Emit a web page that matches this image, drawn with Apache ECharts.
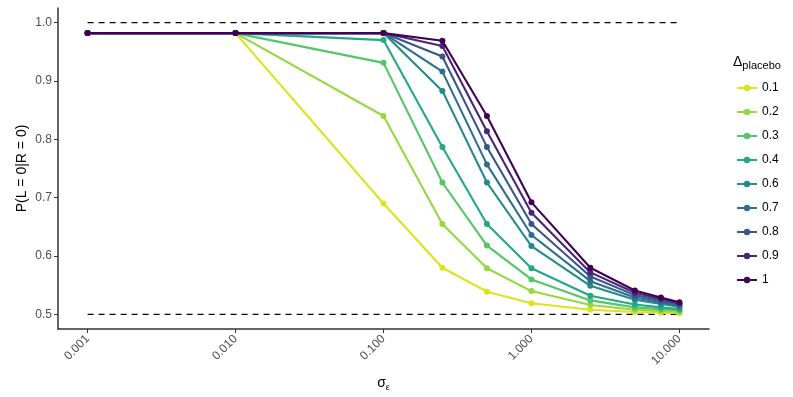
<!DOCTYPE html>
<html>
<head>
<meta charset="utf-8">
<script src="https://cdn.jsdelivr.net/npm/echarts@6/dist/echarts.min.js"></script>
<style>
html,body{margin:0;padding:0;background:#fff;}
#chart{width:793px;height:397px;}
</style>
</head>
<body>
<div id="chart"></div>
<script>
var sigma = [0.001, 0.01, 0.1, 0.25, 0.5, 1, 2.5, 5, 7.5, 10];
var deltaLevels = ['0.1', '0.2', '0.3', '0.4', '0.6', '0.7', '0.8', '0.9', '1'];
var p01 = [0.982, 0.982, 0.690, 0.580, 0.539, 0.519, 0.508, 0.504, 0.503, 0.502];
var p02 = [0.982, 0.982, 0.840, 0.655, 0.579, 0.540, 0.516, 0.508, 0.506, 0.504];
var p03 = [0.982, 0.982, 0.931, 0.726, 0.618, 0.560, 0.524, 0.512, 0.509, 0.507];
var p04 = [0.982, 0.982, 0.970, 0.787, 0.655, 0.579, 0.532, 0.517, 0.512, 0.509];
var p06 = [0.982, 0.982, 0.982, 0.883, 0.726, 0.617, 0.549, 0.525, 0.518, 0.513];
var p07 = [0.982, 0.982, 0.982, 0.916, 0.757, 0.636, 0.557, 0.529, 0.521, 0.515];
var p08 = [0.982, 0.982, 0.982, 0.942, 0.787, 0.655, 0.565, 0.533, 0.524, 0.517];
var p09 = [0.982, 0.982, 0.982, 0.960, 0.814, 0.674, 0.572, 0.537, 0.527, 0.519];
var p10 = [0.982, 0.982, 0.982, 0.969, 0.840, 0.692, 0.580, 0.541, 0.529, 0.521];
var seriesValues = [p01, p02, p03, p04, p06, p07, p08, p09, p10];
var colors = ['#DCE319', '#95D840', '#55C667', '#23A983', '#238A8D', '#2D708E', '#39568C', '#482677', '#440154'];
var xTicks = [0.001, 0.01, 0.1, 1, 10];
var yTicks = [0.5, 0.6, 0.7, 0.8, 0.9, 1.0];
var refLines = [0.5, 1.0];

var series = [];
refLines.forEach(function (r) {
  series.push({
    type: 'line', name: 'ref' + r,
    data: [[sigma[0], r], [sigma[sigma.length - 1], r]],
    showSymbol: false, symbol: 'none', silent: true,
    lineStyle: { color: '#000', type: [6, 5], width: 1.4 },
    z: 1
  });
});
deltaLevels.forEach(function (d, i) {
  series.push({
    type: 'line', name: d,
    data: sigma.map(function (s, j) { return [s, seriesValues[i][j]]; }),
    symbol: 'circle', symbolSize: 6, showSymbol: true,
    itemStyle: { color: colors[i] },
    lineStyle: { color: colors[i], width: 2.1 },
    z: 2 + i
  });
});

var chart = echarts.init(document.getElementById('chart'), null, { renderer: 'canvas' });
chart.setOption({
  animation: false,
  backgroundColor: '#fff',
  textStyle: { fontFamily: 'Liberation Sans, Arial, sans-serif' },
  grid: { left: 58, right: 84, top: 8, bottom: 68, containLabel: false },
  title: {
    text: 'Δ{sub|placebo}',
    left: 728, top: 49,
    textStyle: {
      fontSize: 14, fontWeight: 'normal', color: '#000', fontFamily: 'Liberation Sans, Arial, sans-serif',
      rich: { sub: { fontSize: 11, verticalAlign: 'bottom', padding: [6, 0, 0, 0], color: '#000', fontFamily: 'Liberation Sans, Arial, sans-serif' } }
    }
  },
  legend: {
    data: deltaLevels,
    orient: 'vertical',
    left: 731, top: 77,
    itemWidth: 20, itemHeight: 8, itemGap: 12,
    textStyle: { fontSize: 12, color: '#000', fontFamily: 'Liberation Sans, Arial, sans-serif', padding: [0, 0, 0, 0] }
  },
  xAxis: {
    type: 'log', logBase: 10,
    min: Math.pow(10, -3.2), max: Math.pow(10, 1.2),
    name: 'σ{sub|ε}', nameLocation: 'middle', nameGap: 46, nameMoveOverlap: false,
    nameTextStyle: {
      fontSize: 14, color: '#000',
      rich: { sub: { fontSize: 9, verticalAlign: 'bottom', padding: [8, 0, 0, 0], color: '#000' } }
    },
    axisLine: { show: true, lineStyle: { color: '#333', width: 1.5 } },
    axisTick: { show: true, length: 4, lineStyle: { color: '#333', width: 1 }, customValues: xTicks },
    axisLabel: {
      rotate: 45, fontSize: 12, color: '#4D4D4D', margin: 8,
      customValues: xTicks,
      formatter: function (v) { return Number(v).toFixed(3); }
    },
    splitLine: { show: false }
  },
  yAxis: {
    type: 'value', min: 0.475, max: 1.025,
    name: 'P(L = 0|R = 0)', nameLocation: 'middle', nameGap: 29, nameMoveOverlap: false,
    nameTextStyle: { fontSize: 14, color: '#000' },
    axisLine: { show: true, lineStyle: { color: '#333', width: 1.5 } },
    axisTick: { show: true, length: 4, lineStyle: { color: '#333', width: 1 }, customValues: yTicks },
    axisLabel: {
      fontSize: 12, color: '#4D4D4D', margin: 6,
      customValues: yTicks,
      formatter: function (v) { return Number(v).toFixed(1); }
    },
    splitLine: { show: false }
  },
  series: series
});
</script>
</body>
</html>
